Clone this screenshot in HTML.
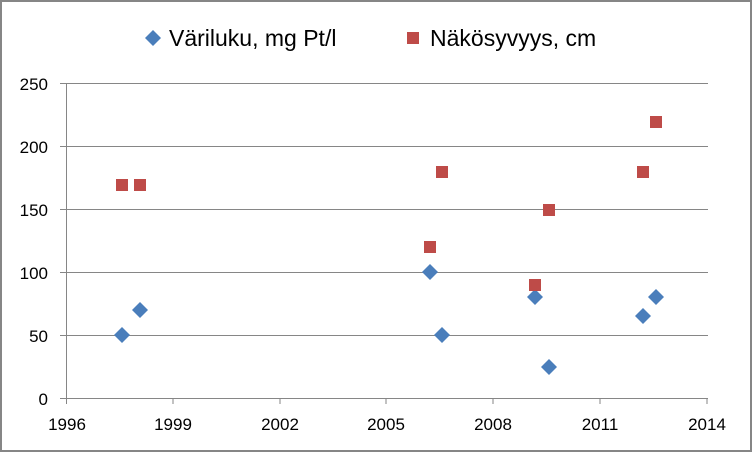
<!DOCTYPE html><html><head><style>body{margin:0;background:#fff}</style></head><body>
<svg width="752" height="452" xmlns="http://www.w3.org/2000/svg" font-family="Liberation Sans, sans-serif">
<rect x="1" y="1" width="750" height="450" fill="#fff" stroke="#868686" stroke-width="2"/>
<g stroke="#868686" stroke-width="1">
<line x1="60" y1="83.5" x2="708" y2="83.5"/><line x1="60" y1="146.5" x2="708" y2="146.5"/>
<line x1="60" y1="209.5" x2="708" y2="209.5"/><line x1="60" y1="272.5" x2="708" y2="272.5"/>
<line x1="60" y1="335.5" x2="708" y2="335.5"/><line x1="60" y1="398.5" x2="708" y2="398.5"/>
<line x1="66.5" y1="83" x2="66.5" y2="404"/>
<line x1="173" y1="398" x2="173" y2="404"/><line x1="280" y1="398" x2="280" y2="404"/>
<line x1="386" y1="398" x2="386" y2="404"/><line x1="493" y1="398" x2="493" y2="404"/>
<line x1="600" y1="398" x2="600" y2="404"/><line x1="707" y1="398" x2="707" y2="404"/>
</g>
<g font-size="17" fill="#000" text-anchor="end">
<text x="48" y="90">250</text><text x="48" y="153">200</text><text x="48" y="216">150</text>
<text x="48" y="279">100</text><text x="48" y="342">50</text><text x="48" y="405">0</text>
</g>
<g font-size="17" fill="#000" text-anchor="middle">
<text x="67" y="430">1996</text><text x="173" y="430">1999</text><text x="280" y="430">2002</text>
<text x="386" y="430">2005</text><text x="493" y="430">2008</text><text x="600" y="430">2011</text><text x="707" y="430">2014</text>
</g>
<g fill="#4a7ebb">
<path d="M153 30l8 8-8 8-8-8z"/>
<path d="M122 327l8 8-8 8-8-8z"/><path d="M140 302l8 8-8 8-8-8z"/>
<path d="M430 264l8 8-8 8-8-8z"/><path d="M442 327l8 8-8 8-8-8z"/>
<path d="M535 289l8 8-8 8-8-8z"/><path d="M549 359l8 8-8 8-8-8z"/>
<path d="M643 308l8 8-8 8-8-8z"/><path d="M656 289l8 8-8 8-8-8z"/>
</g>
<g fill="#be4b48">
<rect x="407" y="32" width="12" height="12"/>
<rect x="116" y="179" width="12" height="12"/><rect x="134" y="179" width="12" height="12"/>
<rect x="424" y="241" width="12" height="12"/><rect x="436" y="166" width="12" height="12"/>
<rect x="529" y="279" width="12" height="12"/><rect x="543" y="204" width="12" height="12"/>
<rect x="637" y="166" width="12" height="12"/><rect x="650" y="116" width="12" height="12"/>
</g>
<g font-size="23" fill="#000">
<text x="169" y="46">Väriluku, mg Pt/l</text>
<text x="430" y="46">Näkösyvyys, cm</text>
</g>
</svg>
</body></html>
